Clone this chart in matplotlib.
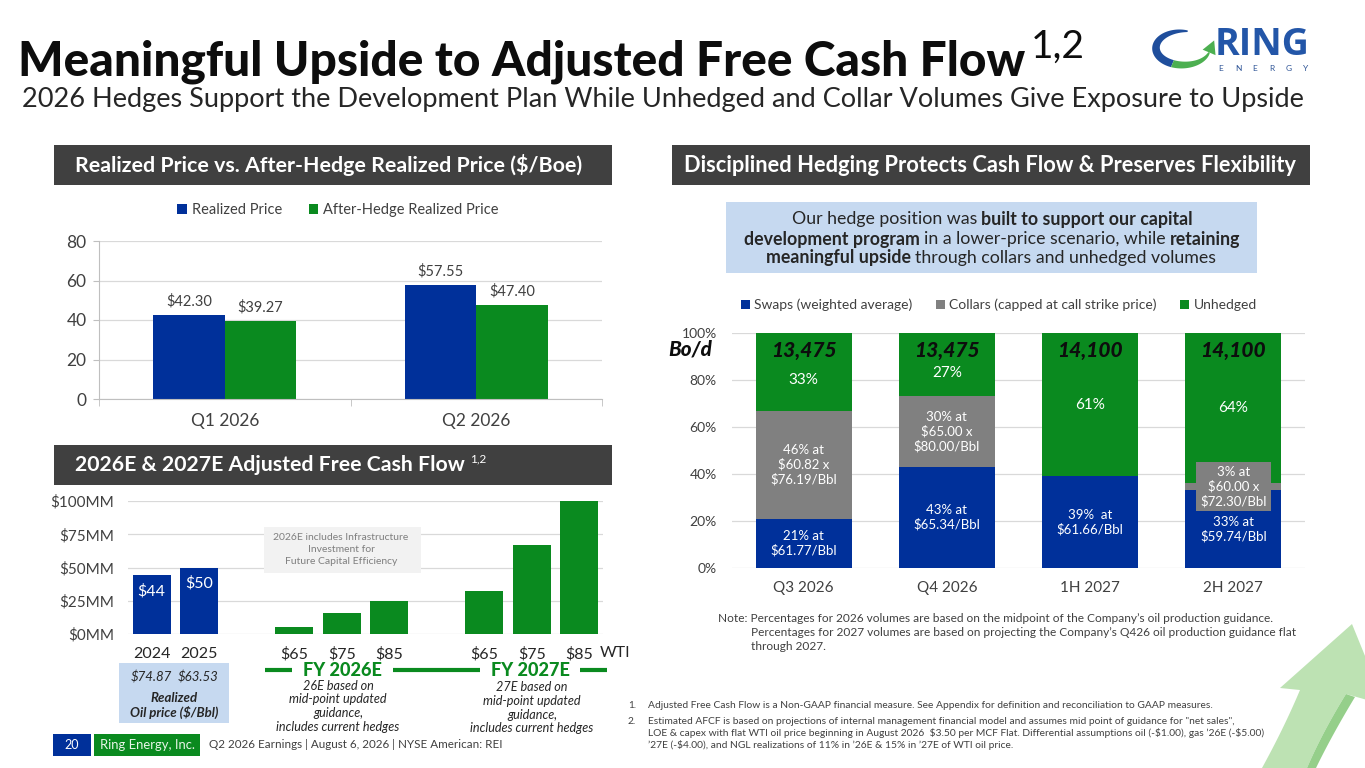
import matplotlib
matplotlib.use("Agg")
import matplotlib.pyplot as plt
from matplotlib.patches import Rectangle, Polygon
from matplotlib.ticker import FixedLocator
import numpy as np

# ---------------- data ----------------
price_quarters = ["Q1 2026", "Q2 2026"]
realized_price = [42.30, 57.55]
after_hedge_price = [39.27, 47.40]
price_ticks = [0, 20, 40, 60, 80]

afcf_labels = ["2024", "2025", "", "$65", "$75", "$85", "", "$65", "$75", "$85"]
afcf_values = [44, 50, None, 5, 15.5, 25, None, 32, 67, 100]
afcf_bar_text = ["$44", "$50"]
afcf_ticks = [0, 25, 50, 75, 100]
afcf_tick_labels = ["$0MM", "$25MM", "$50MM", "$75MM", "$100MM"]
realized_oil = ["$74.87", "$63.53"]

hedge_periods = ["Q3 2026", "Q4 2026", "1H 2027", "2H 2027"]
volumes_bod = ["13,475", "13,475", "14,100", "14,100"]
swaps_pct = [21, 43, 39, 33]
collars_pct = [46, 30, 0, 3]
unhedged_pct = [33, 27, 61, 64]
swaps_text = ["21% at\n$61.77/Bbl", "43% at\n$65.34/Bbl", "39%  at\n$61.66/Bbl", "33% at\n$59.74/Bbl"]
collars_text = ["46% at\n$60.82 x\n$76.19/Bbl", "30% at\n$65.00 x\n$80.00/Bbl", "", "3% at\n$60.00 x\n$72.30/Bbl"]
unhedged_text = ["33%", "27%", "61%", "64%"]
pct_ticks = [0, 20, 40, 60, 80, 100]
pct_tick_labels = ["0%", "20%", "40%", "60%", "80%", "100%"]

# ---------------- style ----------------
W, H = 1365, 768
FONT = "Lato"
plt.rcParams["font.family"] = [FONT, "DejaVu Sans"]
BLUE = "#00309A"
GREEN = "#0A8A1F"
GRAY = "#808080"
DARK = "#404040"
LIGHTBLUE = "#C6D9F0"
TXT = "#404040"
GRID = "#D9D9D9"

fig = plt.figure(figsize=(13.65, 7.68), dpi=100)
fig.patch.set_facecolor("white")


def fax(x0, y0, x1, y1, **kw):
    """axes from pixel box (y measured from top)"""
    return fig.add_axes([x0 / W, 1 - y1 / H, (x1 - x0) / W, (y1 - y0) / H], **kw)


# ================= chart 1: realized prices =================
ax1 = fax(99, 241, 602, 399)
ax1.set_facecolor("none")
x1 = np.arange(len(price_quarters))
bw1 = 0.284
b1 = ax1.bar(x1 - bw1 / 2, realized_price, width=bw1, color=BLUE, label="Realized Price")
b2 = ax1.bar(x1 + bw1 / 2, after_hedge_price, width=bw1, color=GREEN, label="After-Hedge Realized Price")
ax1.set_xlim(-0.5, len(price_quarters) - 0.5)
ax1.set_ylim(0, 80)
ax1.set_yticks(price_ticks)
ax1.yaxis.grid(True, color=GRID, lw=0.9)
ax1.set_axisbelow(True)
for s in ["top", "right"]:
    ax1.spines[s].set_visible(False)
for s in ["left", "bottom"]:
    ax1.spines[s].set_color("#BFBFBF")
ax1.tick_params(axis="y", length=4, color="#BFBFBF", labelsize=12.5, labelcolor=TXT, pad=5)
ax1.set_xticks(x1, price_quarters)
ax1.xaxis.set_minor_locator(FixedLocator([-0.5, 0.5, 1.5]))
ax1.tick_params(axis="x", which="major", length=0, labelsize=12.5, labelcolor=TXT, pad=10)
ax1.tick_params(axis="x", which="minor", length=5, color="#BFBFBF")
for bars, vals in ((b1, realized_price), (b2, after_hedge_price)):
    for r, v in zip(bars, vals):
        ax1.annotate(f"${v:.2f}", (r.get_x() + r.get_width() / 2, v), xytext=(0, 10.5),
                     textcoords="offset points", ha="center", va="center",
                     fontsize=10.5, color=TXT, parse_math=False)
ax1.legend(handles=[b1, b2], loc="center", bbox_to_anchor=(338 / W, 1 - 210 / H),
           bbox_transform=fig.transFigure, ncol=2, frameon=False, fontsize=10.5,
           handlelength=0.65, handleheight=0.65, handletextpad=0.35, columnspacing=1.8,
           labelcolor=TXT)

# ================= chart 2: AFCF =================
ax2 = fax(128, 501, 603, 634)
ax2.set_facecolor("none")
x2 = [i for i, v in enumerate(afcf_values) if v is not None]
v2 = [v for v in afcf_values if v is not None]
c2 = [BLUE if i < 2 else GREEN for i in x2]
bars2 = ax2.bar(x2, v2, width=0.8, color=c2)
ax2.set_xlim(-0.5, len(afcf_values) - 0.5)
ax2.set_ylim(0, 100)
ax2.set_yticks(afcf_ticks, afcf_tick_labels)
ax2.set_xticks(range(len(afcf_labels)), afcf_labels)
ax2.yaxis.grid(True, color=GRID, lw=0.9)
ax2.set_axisbelow(True)
for s in ax2.spines.values():
    s.set_visible(False)
ax2.tick_params(axis="y", length=0, labelsize=11, labelcolor=TXT, pad=10)
ax2.tick_params(axis="x", length=0, labelsize=11.5, labelcolor="#262626", pad=9)
for r, txt in zip(bars2[:2], afcf_bar_text):
    ax2.annotate(txt, (r.get_x() + r.get_width() / 2, r.get_height()), xytext=(0, -11.5),
                 textcoords="offset points", ha="center", va="center", fontsize=11.5,
                 color="white", parse_math=False)

# ================= chart 3: hedging =================
ax3 = fax(732, 333, 1305, 568)
ax3.set_facecolor("none")
x3 = np.arange(len(hedge_periods))
bw3 = 0.67
bot2 = np.add(swaps_pct, collars_pct)
h1 = ax3.bar(x3, swaps_pct, width=bw3, color=BLUE, label="Swaps (weighted average)")
h2 = ax3.bar(x3, collars_pct, bottom=swaps_pct, width=bw3, color=GRAY,
             label="Collars (capped at call strike price)")
h3 = ax3.bar(x3, unhedged_pct, bottom=bot2, width=bw3, color=GREEN, label="Unhedged")
ax3.set_xlim(-0.5, len(hedge_periods) - 0.5)
ax3.set_ylim(0, 100)
ax3.set_yticks(pct_ticks, pct_tick_labels)
ax3.set_xticks(x3, hedge_periods)
ax3.yaxis.grid(True, color=GRID, lw=0.9)
ax3.set_axisbelow(True)
for s in ax3.spines.values():
    s.set_visible(False)
ax3.tick_params(axis="y", length=0, labelsize=10, labelcolor=TXT, pad=11)
ax3.tick_params(axis="x", length=0, labelsize=11, labelcolor=TXT, pad=9.5)
for i in range(len(hedge_periods)):
    ax3.text(i, swaps_pct[i] / 2, swaps_text[i], ha="center", va="center", fontsize=9.5,
             color="white", linespacing=1.2, parse_math=False)
    if collars_pct[i] > 0:
        if collars_pct[i] >= 10:
            ax3.text(i, swaps_pct[i] + collars_pct[i] / 2, collars_text[i], ha="center",
                     va="center", fontsize=9.5, color="white", linespacing=1.2, parse_math=False)
        else:
            ax3.text(i, swaps_pct[i] + collars_pct[i] / 2, collars_text[i], ha="center",
                     va="center", fontsize=9.5, color="white", linespacing=1.2, parse_math=False,
                     bbox=dict(boxstyle="square,pad=0.3", fc=GRAY, ec="none"), zorder=5)
    off = -6 if unhedged_pct[i] < 40 else 0
    ax3.annotate(unhedged_text[i], (i, bot2[i] + unhedged_pct[i] / 2), xytext=(0, off),
                 textcoords="offset points", ha="center", va="center", fontsize=11,
                 color="white")
    ax3.annotate(volumes_bod[i], (i, 100), xytext=(0, -12.5), textcoords="offset points",
                 ha="center", va="center", fontsize=15, fontweight="black",
                 fontstyle="italic", color="#0D0D0D")
ax3.legend(handles=[h1, h2, h3], loc="center", bbox_to_anchor=(999 / W, 1 - 305 / H),
           bbox_transform=fig.transFigure, ncol=3, frameon=False, fontsize=10,
           handlelength=0.65, handleheight=0.65, handletextpad=0.3, columnspacing=1.7,
           labelcolor=TXT)

# ================= overlay (pixel coordinates) =================
ov = fig.add_axes([0, 0, 1, 1], zorder=10)
ov.set_facecolor("none")
ov.set_xlim(0, W)
ov.set_ylim(H, 0)
ov.axis("off")
R = fig.canvas.get_renderer()


def T(x, y, s, **kw):
    kw.setdefault("color", TXT)
    kw.setdefault("va", "center")
    return ov.text(x, y, s, parse_math=False, **kw)


def width_of(t):
    return t.get_window_extent(renderer=R).width


def fit(t, target):
    t.set_fontsize(t.get_fontsize() * target / width_of(t))
    return t.get_fontsize()


def measure(s, size, weight="normal"):
    t = T(0, 0, s, fontsize=size, fontweight=weight)
    w = width_of(t)
    t.remove()
    return w


def rich(xc, y, parts, size=None, target=None, color=TXT):
    base = 10.0
    segs, total = [], 0.0
    for s, wt in parts:
        lead = len(s) - len(s.lstrip(" "))
        trail = len(s) - len(s.rstrip(" "))
        core = s.strip(" ")
        sp = measure("a a", base, wt) - measure("aa", base, wt)
        cw = measure(core, base, wt)
        segs.append((lead * sp, core, wt, cw, trail * sp))
        total += lead * sp + cw + trail * sp
    if target:
        size = base * target / total
    k = size / base
    cur = xc - total * k / 2
    for lsp, core, wt, cw, tsp in segs:
        cur += lsp * k
        T(cur, y, core, fontsize=size, fontweight=wt, color=color, ha="left")
        cur += (cw + tsp) * k
    return size


# ---- title ----
t = T(18, 75, "Meaningful Upside to Adjusted Free Cash Flow", fontsize=34, fontweight="black",
      color="#0D0D0D", va="baseline")
fit(t, 1010)
t = T(1031, 58, "1,2", fontsize=18, color="#0D0D0D", va="baseline")
fit(t, 54)
t = T(22, 107, "2026 Hedges Support the Development Plan While Unhedged and Collar Volumes Give Exposure to Upside",
      fontsize=18, color="#262626", va="baseline")
fit(t, 1283)

# ---- logo ----
cx, cy, rx, ry = 1183, 48, 27, 17
th = np.radians(np.linspace(80, 345, 120))
thick = 1.5 + 6.5 * np.sin(np.linspace(0, np.pi, 120)) ** 0.8
ox = cx + (rx + thick / 2) * np.cos(th)
oy = cy - (ry + thick / 2) * np.sin(th)
ix = cx + (rx - thick / 2) * np.cos(th)
iy = cy - (ry - thick / 2) * np.sin(th)
split = 75
for a, b, col in ((0, split + 1, "#1F4E9C"), (split, 120, "#4CAF50")):
    pts = np.concatenate([np.c_[ox[a:b], oy[a:b]], np.c_[ix[a:b], iy[a:b]][::-1]])
    ov.add_patch(Polygon(pts, closed=True, fc=col, ec="none"))
P = np.array([ox[-1] + ix[-1], oy[-1] + iy[-1]]) / 2
d = np.array([-rx * np.sin(th[-1]), -ry * np.cos(th[-1])])
d = d / np.linalg.norm(d)
pp = np.array([-d[1], d[0]])
ov.add_patch(Polygon([P + 13 * d, P + 7 * pp, P - 7 * pp], closed=True, fc="#4CAF50", ec="none"))
t = T(1215, 55, "RING", fontsize=24, fontweight="bold", color="#2356A8", va="baseline", ha="left",
      family=["Open Sans", "DejaVu Sans"])
fit(t, 95)
for xx, ch in zip(np.linspace(1221, 1306, 6), "ENERGY"):
    T(xx, 68.5, ch, fontsize=6, color="#2F5597", ha="center")

# ---- header bars ----
ov.add_patch(Rectangle((54, 145), 558, 40, fc=DARK, ec="none"))
t = T(75, 165, "Realized Price vs. After-Hedge Realized Price ($/Boe)", fontsize=14,
      fontweight="bold", color="white", ha="left")
fit(t, 509)
ov.add_patch(Rectangle((672, 145), 638, 40, fc=DARK, ec="none"))
t = T(684, 165, "Disciplined Hedging Protects Cash Flow & Preserves Flexibility", fontsize=14,
      fontweight="bold", color="white", ha="left")
fit(t, 614)
ov.add_patch(Rectangle((54, 445), 558, 40, fc=DARK, ec="none"))
t = T(75, 465, "2026E & 2027E Adjusted Free Cash Flow", fontsize=14, fontweight="bold",
      color="white", ha="left")
fit(t, 393)
T(470, 459, "1,2", fontsize=8.5, color="white", ha="left")

# ---- right info box ----
ov.add_patch(Rectangle((726, 202), 531, 71, fc=LIGHTBLUE, ec="none"))
sz = rich(991.5, 239, [("development program", "bold"), (" in a lower-price scenario, while ", "normal"),
                       ("retaining", "bold")], target=496, color="#262626")
rich(991.5, 219, [("Our hedge position was ", "normal"), ("built to support our capital", "bold")],
     size=sz, color="#262626")
rich(991.5, 258, [("meaningful upside", "bold"), (" through collars and unhedged volumes", "normal")],
     size=sz, color="#262626")
t = T(668, 349, "Bo/d", fontsize=15, fontweight="black", fontstyle="italic", color="#0D0D0D", ha="left")
fit(t, 44)

# ---- notes ----
t = T(718, 618, "Note: Percentages for 2026 volumes are based on the midpoint of the Company\u2019s oil production guidance.",
      fontsize=8.5, ha="left")
fit(t, 554)
t = T(751, 632, "Percentages for 2027 volumes are based on projecting the Company\u2019s Q426 oil production guidance flat",
      fontsize=8.5, ha="left")
nsz = fit(t, 543)
T(751, 646, "through 2027.", fontsize=nsz, ha="left")

T(628, 705, "1.", fontsize=7, ha="left")
t = T(648, 705, "Adjusted Free Cash Flow is a Non-GAAP financial measure. See Appendix for definition and reconciliation to GAAP measures.",
      fontsize=7, ha="left")
fsz = fit(t, 569)
T(628, 721, "2.", fontsize=fsz, ha="left")
T(648, 721, "Estimated AFCF is based on projections of internal management financial model and assumes mid point of guidance for \"net sales\",",
  fontsize=fsz, ha="left")
T(648, 733, "LOE & capex with flat WTI oil price beginning in August 2026  $3.50 per MCF Flat. Differential assumptions oil (-$1.00), gas \u201926E (-$5.00)",
  fontsize=fsz, ha="left")
T(648, 745, "\u201927E (-$4.00), and NGL realizations of 11% in \u201926E & 15% in \u201927E of WTI oil price.",
  fontsize=fsz, ha="left")

# ---- AFCF chart extras ----
T(600, 653, "WTI", fontsize=11.5, color="#262626", ha="left")
ov.add_patch(Rectangle((264, 527), 157, 46, fc="#F2F2F2", ec="none"))
for yy, s in zip((538, 550, 562), ("2026E includes Infrastructure", "Investment for", "Future Capital Efficiency")):
    T(341, yy, s, fontsize=7.5, color="#7F7F7F", ha="center")

ov.add_patch(Rectangle((119, 663), 110, 60, fc=LIGHTBLUE, ec="none"))
for xx, s in zip((151, 198), realized_oil):
    T(xx, 677, s, fontsize=9.5, fontstyle="italic", color="#262626", ha="center")
T(174, 698, "Realized", fontsize=9.5, fontweight="bold", fontstyle="italic", color="#262626", ha="center")
T(174, 712, "Oil price ($/Bbl)", fontsize=9.5, fontweight="bold", fontstyle="italic", color="#262626", ha="center")

for xa, xb in ((265, 292), (393, 480), (580, 607)):
    ov.plot([xa, xb], [670, 670], color=GREEN, lw=3, solid_capstyle="butt")
t = T(342.5, 670, "FY 2026E", fontsize=13, fontweight="black", color=GREEN, ha="center")
gsz = fit(t, 79)
T(530.5, 670, "FY 2027E", fontsize=gsz, fontweight="black", color=GREEN, ha="center")

cap = ["based on", "mid-point updated", "guidance,", "includes current hedges"]
t = T(338, 727, cap[3], fontsize=9, fontstyle="italic", color="#262626", ha="center")
csz = fit(t, 123)
for yy, s in zip((686, 699, 713), ["26E " + cap[0], cap[1], cap[2]]):
    T(338, yy, s, fontsize=csz, fontstyle="italic", color="#262626", ha="center")
for yy, s in zip((687, 701, 715, 728), ["27E " + cap[0], cap[1], cap[2], cap[3]]):
    T(532, yy, s, fontsize=csz, fontstyle="italic", color="#262626", ha="center")

# ---- footer ----
ov.add_patch(Rectangle((53, 734), 38, 22, fc=BLUE, ec="none"))
T(72, 745, "20", fontsize=9, color="white", ha="center")
ov.add_patch(Rectangle((94, 734), 106, 22, fc=GREEN, ec="none"))
t = T(147, 745, "Ring Energy, Inc.", fontsize=9, color="#E8F5E8", ha="center")
fit(t, 95)
t = T(209, 745, "Q2 2026 Earnings | August 6, 2026 | NYSE American: REI", fontsize=8.5, ha="left")
fit(t, 292)

# ---- decorative arrow ----
def qb(p0, p1, p2, n=20):
    s = np.linspace(0, 1, n)[:, None]
    return (1 - s) ** 2 * np.array(p0) + 2 * (1 - s) * s * np.array(p1) + s ** 2 * np.array(p2)

left = qb((1262, 768), (1284, 728), (1300, 690))
right = qb((1346, 694), (1322, 733), (1307, 768))
head = np.array([(1280, 688), (1352, 624), (1385, 705)])
arrow = np.concatenate([left, head, right])
ov.add_patch(Polygon(arrow, closed=True, fc="#BDE2B3", ec="none"))
rim = np.concatenate([qb((1346, 694), (1322, 733), (1307, 768)),
                      qb((1316, 768), (1332, 735), (1355, 697))])
ov.add_patch(Polygon(rim, closed=True, fc="#95CF8A", ec="none"))

fig.savefig("out.png", dpi=100, facecolor="white")
